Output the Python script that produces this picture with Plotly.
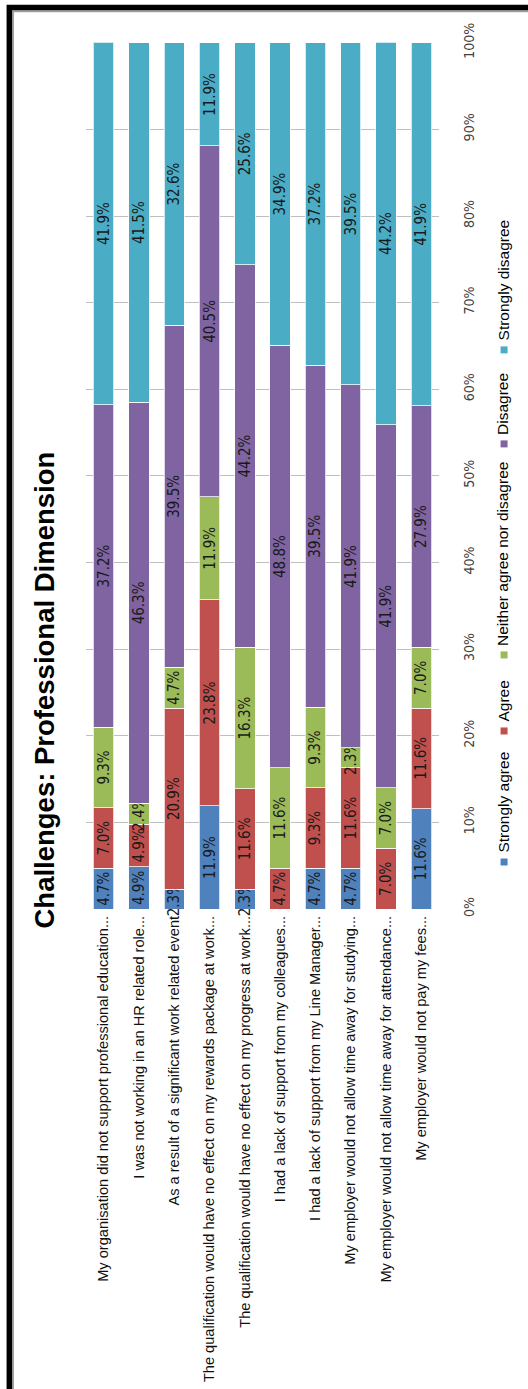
import plotly.graph_objects as go

# Survey statements (one bar each)
categories = [
    "My organisation did not support professional education...",
    "I was not working in an HR related role...",
    "As a result of a significant work related event",
    "The qualification would have no effect on my rewards package at work...",
    "The qualification would have no effect on my progress at work...",
    "I had a lack of support from my colleagues...",
    "I had a lack of support from my Line Manager...",
    "My employer would not allow time away for studying...",
    "My employer would not allow time away for attendance...",
    "My employer would not pay my fees...",
]

# Response shares (%) per statement
strongly_agree = [4.7, 4.9, 2.3, 11.9, 2.3, 0.0, 4.7, 4.7, 0.0, 11.6]
agree = [7.0, 4.9, 20.9, 23.8, 11.6, 4.7, 9.3, 11.6, 7.0, 11.6]
neither = [9.3, 2.4, 4.7, 11.9, 16.3, 11.6, 9.3, 2.3, 7.0, 7.0]
disagree = [37.2, 46.3, 39.5, 40.5, 44.2, 48.8, 39.5, 41.9, 41.9, 27.9]
strongly_disagree = [41.9, 41.5, 32.6, 11.9, 25.6, 34.9, 37.2, 39.5, 44.2, 41.9]

series_names = ["Strongly agree", "Agree", "Neither agree nor disagree",
                "Disagree", "Strongly disagree"]
series_values = [strongly_agree, agree, neither, disagree, strongly_disagree]
series_colors = ["#4F81BD", "#C0504D", "#9BBB59", "#8064A2", "#4BACC6"]

title_text = "Challenges: Professional Dimension"
pct_ticks = list(range(0, 101, 10))

# Page / plot-area geometry (pixels)
W, H = 528, 1389
ML, MR, MT, MB = 86.4, 89, 42.2, 480
PW = W - ML - MR
PH = H - MT - MB


def fx(px):
    return (px - ML) / PW


def fy(py):
    return (H - MB - py) / PH


LABEL_FONT = "Liberation Sans Narrow, Arial Narrow, DejaVu Sans Condensed, sans-serif"
TEXT_FONT = "Liberation Sans, Arial, sans-serif"

fig = go.Figure()
for name, vals, col in zip(series_names, series_values, series_colors):
    fig.add_trace(go.Bar(
        x=categories,
        y=vals,
        name=name,
        marker=dict(color=col, line=dict(color="rgba(255,255,255,0.75)", width=1)),
        text=[f"{v:.1f}%" if v > 0 else "" for v in vals],
        textposition="inside",
        insidetextanchor="middle",
        textangle=-90,
        textfont=dict(family=LABEL_FONT, size=15, color="#1a1a1a"),
        showlegend=False,
        cliponaxis=False,
    ))

fig.update_layout(
    width=W, height=H,
    margin=dict(l=ML, r=MR, t=MT, b=MB, pad=0, autoexpand=False),
    barmode="stack",
    bargap=0.42,
    plot_bgcolor="white",
    paper_bgcolor="white",
    uniformtext=dict(minsize=15, mode="show"),
    xaxis=dict(
        automargin=False,
        tickangle=-90,
        tickfont=dict(family=TEXT_FONT, size=14.6, color="#111111"),
        ticks="",
        showline=False,
        showgrid=False,
        ticklabelstandoff=3,
    ),
    yaxis=dict(
        automargin=False,
        side="right",
        range=[0, 100.1],
        tickvals=pct_ticks,
        ticktext=[f"{t}%" for t in pct_ticks],
        tickangle=-90,
        tickfont=dict(family=LABEL_FONT, size=14, color="#404040"),
        showgrid=True,
        gridcolor="#BFBFBF",
        gridwidth=1,
        zeroline=False,
        showline=False,
        ticks="",
        ticklabelstandoff=20,
    ),
)

# Chart title, drawn rotated along the left edge
fig.add_annotation(
    text=f"<b>{title_text}</b>",
    textangle=-90,
    xref="paper", yref="paper",
    x=fx(45), y=fy(690),
    xanchor="center", yanchor="middle",
    showarrow=False,
    font=dict(family=TEXT_FONT, size=27.5, color="#000000"),
)

# Rotated legend along the right edge
legend_square_y = [862, 731, 655, 444, 350]
for name, col, sy in zip(series_names, series_colors, legend_square_y):
    fig.add_shape(
        type="rect", xref="paper", yref="paper",
        x0=fx(500.5), x1=fx(507.5), y0=fy(sy + 3.5), y1=fy(sy - 3.5),
        fillcolor=col, line=dict(width=0),
    )
    fig.add_annotation(
        text=name, textangle=-90,
        xref="paper", yref="paper",
        x=fx(503), y=fy(sy - 7),
        xanchor="center", yanchor="bottom",
        showarrow=False,
        font=dict(family=TEXT_FONT, size=15.5, color="#000000"),
    )

# Outer frame (runs off the right and bottom of the page)
fig.add_shape(
    type="rect", xref="paper", yref="paper",
    x0=fx(13.5), x1=fx(640), y0=fy(1500), y1=fy(11.5),
    line=dict(color="#A0A0A0", width=2), fillcolor="rgba(0,0,0,0)", layer="above",
)
fig.add_shape(
    type="rect", xref="paper", yref="paper",
    x0=fx(9.8), x1=fx(640), y0=fy(1500), y1=fy(7.8),
    line=dict(color="#000000", width=5.5), fillcolor="rgba(0,0,0,0)", layer="above",
)

fig.write_html("out.html")
